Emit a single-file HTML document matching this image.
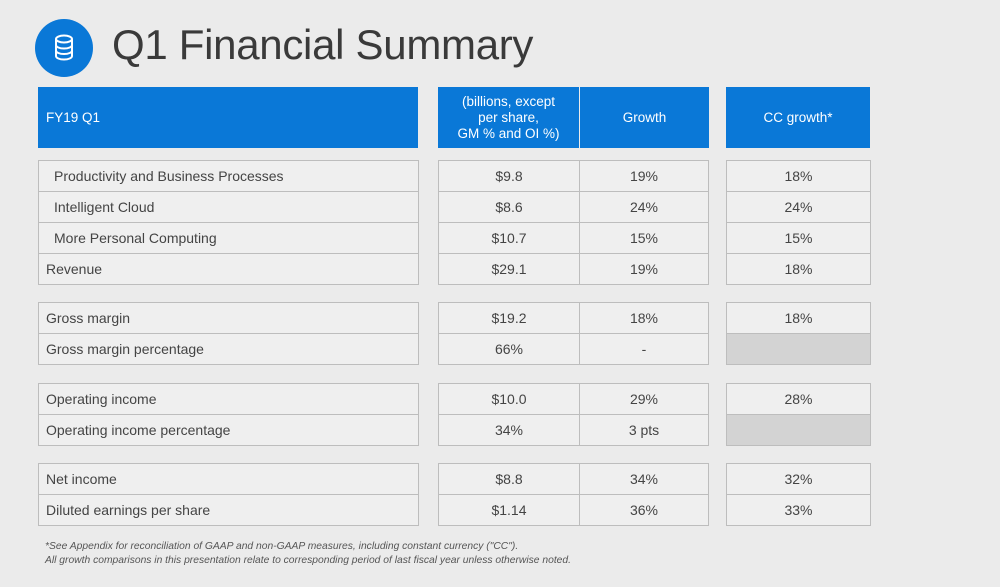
<!DOCTYPE html>
<html><head><meta charset="utf-8"><style>
body{margin:0;width:1000px;height:587px;background:#ebebeb;font-family:"Liberation Sans",sans-serif;position:relative;overflow:hidden}
.a{position:absolute;box-sizing:border-box}
.h{background:#0a78d7;color:#fff;font-size:13.5px;display:flex;align-items:center;justify-content:center;text-align:center;line-height:16px}
.c{background:#efefef;border:1px solid #bdbdbd;color:#444;font-size:14px;display:flex;align-items:center;justify-content:center}
.l{justify-content:flex-start;padding-left:7px}
.i{padding-left:15px}
.g{background:#d3d3d3}
</style></head><body>
<div class="a" style="left:35px;top:19px;width:58px;height:58px;border-radius:50%;background:#0a78d7">
<svg width="58" height="58" viewBox="0 0 58 58"><g fill="none" stroke="#fff" stroke-width="2"><ellipse cx="29" cy="20" rx="8" ry="3.5"/><path d="M21 20v17c0 2 3.5 3.5 8 3.5s8-1.5 8-3.5V20M21 26c0 2 3.5 3.5 8 3.5s8-1.5 8-3.5M21 31.5c0 2 3.5 3.5 8 3.5s8-1.5 8-3.5"/></g></svg></div>
<div class="a" style="left:112px;top:21px;font-size:42px;color:#3a3a3a;letter-spacing:-0.3px">Q1 Financial Summary</div>
<div class="a h" style="left:38px;top:87px;width:380px;height:61px;justify-content:flex-start;padding-left:8px">FY19 Q1</div>
<div class="a h" style="left:438px;top:87px;width:141px;height:61px">(billions, except<br>per share,<br>GM % and OI %)</div>
<div class="a h" style="left:580px;top:87px;width:129px;height:61px">Growth</div>
<div class="a h" style="left:726px;top:87px;width:144px;height:61px">CC growth*</div>
<div id="rows"></div>
<div class="a" style="left:45px;top:540px;font-size:10.3px;font-style:italic;color:#555;line-height:14px">*See Appendix for reconciliation of GAAP and non-GAAP measures, including constant currency ("CC").<br>All growth comparisons in this presentation relate to corresponding period of last fiscal year unless otherwise noted.</div>
<script>
const labels=["Productivity and Business Processes","Intelligent Cloud","More Personal Computing","Revenue","Gross margin","Gross margin percentage","Operating income","Operating income percentage","Net income","Diluted earnings per share"];
const values=["$9.8","$8.6","$10.7","$29.1","$19.2","66%","$10.0","34%","$8.8","$1.14"];
const growth=["19%","24%","15%","19%","18%","-","29%","3 pts","34%","36%"];
const ccGrowth=["18%","24%","15%","18%","18%","","28%","","32%","33%"];
const tops=[160,191,222,253,302,333,383,414,463,494];
const root=document.getElementById('rows');
function cell(x,y,w,txt,cls,name){const d=document.createElement('div');d.className='a c '+cls;d.style.cssText=`left:${x}px;top:${y}px;width:${w}px;height:32px`;d.textContent=txt;


root.appendChild(d);}
labels.forEach((l,i)=>{const y=tops[i];
cell(38,y,381,l,'l'+(i<3?' i':''),'row-label');
cell(438,y,142,values[i],'','value-cell');
cell(579,y,130,growth[i],'','growth-cell');
cell(726,y,145,ccGrowth[i],ccGrowth[i]===''?'g':'','cc-growth-cell');});
</script>
</body></html>
